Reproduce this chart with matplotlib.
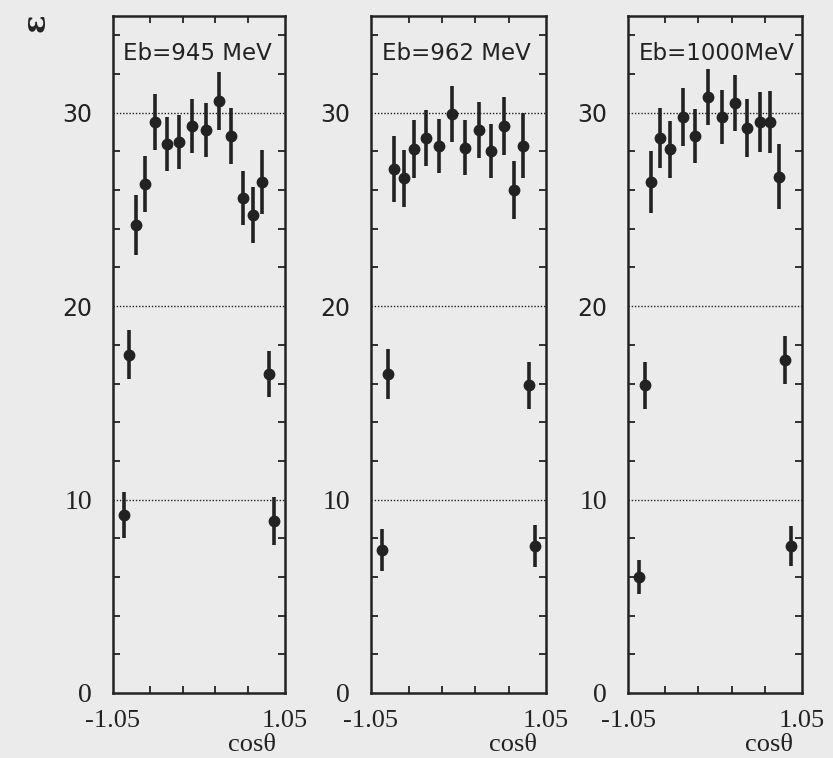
import numpy as np
import matplotlib.pyplot as plt
from matplotlib.ticker import MultipleLocator, FixedLocator

# cos(theta) bin centres, shared by the three energies
cos_theta = [-0.92, -0.85, -0.77, -0.66, -0.54, -0.39, -0.24, -0.08,
             0.08, 0.24, 0.39, 0.54, 0.66, 0.77, 0.85, 0.92]

energies = ['Eb=945 MeV', 'Eb=962 MeV', 'Eb=1000MeV']

eff_945 = [9.2, 17.5, 24.2, 26.3, 29.5, 28.4, 28.5, 29.3,
           29.1, 30.6, 28.8, 25.6, 24.7, 26.4, 16.5, 8.9]
err_945 = [1.2, 1.25, 1.55, 1.45, 1.45, 1.4, 1.4, 1.4,
           1.4, 1.5, 1.45, 1.4, 1.45, 1.65, 1.2, 1.25]

eff_962 = [7.4, 16.5, 27.1, 26.6, 28.1, 28.7, 28.3, 29.95,
           28.2, 29.1, 28.0, 29.3, 26.0, 28.3, 15.9, 7.6]
err_962 = [1.1, 1.3, 1.7, 1.45, 1.5, 1.45, 1.4, 1.45,
           1.4, 1.45, 1.4, 1.5, 1.5, 1.7, 1.2, 1.1]

eff_1000 = [6.0, 15.9, 26.4, 28.7, 28.1, 29.8, 28.8, 30.8,
            29.8, 30.5, 29.2, 29.5, 29.5, 26.7, 17.2, 7.6]
err_1000 = [0.9, 1.2, 1.6, 1.55, 1.45, 1.5, 1.4, 1.45,
            1.4, 1.45, 1.5, 1.55, 1.6, 1.7, 1.25, 1.05]

effs = [eff_945, eff_962, eff_1000]
errs = [err_945, err_962, err_1000]

bg = '#ebebeb'
ink = '#222222'

fig = plt.figure(figsize=(8.33, 7.58), dpi=100, facecolor=bg)

W, H = 833, 758
lefts = [113, 371, 628]
widths = [172, 175, 174]
top, bottom = 16, 693

for i in range(3):
    ax = fig.add_axes([lefts[i] / W, 1 - bottom / H, widths[i] / W, (bottom - top) / H])
    ax.set_facecolor(bg)

    # dotted reference lines
    for yy in (10, 20, 30):
        ax.axhline(yy, color=ink, lw=1.0, ls=(0, (1, 1.3)), zorder=1)

    ax.errorbar(cos_theta, effs[i], yerr=errs[i], fmt='o', color=ink,
                ms=7.5, elinewidth=2.6, capsize=0, zorder=3)

    ax.set_xlim(-1.05, 1.05)
    ax.set_ylim(0, 35)

    ax.xaxis.set_major_locator(FixedLocator([-1.05, 1.05]))
    ax.xaxis.set_minor_locator(FixedLocator([-0.6, -0.2, 0.2, 0.6]))
    ax.set_xticklabels(['-1.05', '1.05'])
    ax.yaxis.set_major_locator(FixedLocator([0, 10, 20, 30]))
    ax.yaxis.set_minor_locator(MultipleLocator(2))

    ax.tick_params(which='both', direction='in', top=True, right=True,
                   color=ink, width=1.3)
    ax.tick_params(which='major', length=0)
    ax.tick_params(which='minor', length=5)
    ax.tick_params(axis='x', which='major', pad=12)
    ax.tick_params(axis='y', which='major', pad=15)

    for lab in ax.get_xticklabels():
        lab.set_fontfamily('Liberation Serif')
        lab.set_fontsize(19)
        lab.set_color(ink)
    for lab, val in zip(ax.get_yticklabels(), [0, 10, 20, 30]):
        if val >= 20:
            lab.set_fontfamily('DejaVu Sans')
            lab.set_fontsize(17)
        else:
            lab.set_fontfamily('Liberation Serif')
            lab.set_fontsize(20)
        lab.set_color(ink)

    for sp in ax.spines.values():
        sp.set_color(ink)
        sp.set_linewidth(1.8)

    ax.text(0.06, 0.945, energies[i], transform=ax.transAxes, ha='left', va='center',
            fontsize=16.5, family='DejaVu Sans', color=ink)
    ax.text(0.81, -0.077, 'cosθ', transform=ax.transAxes, ha='center', va='center',
            fontsize=19, family='Liberation Serif', color=ink)

fig.text(36 / W, 1 - 23 / H, 'ε', rotation=90, ha='center', va='center',
         fontsize=22, family='DejaVu Serif', weight='bold', color=ink)

fig.savefig('out.png', dpi=100, facecolor=bg)
